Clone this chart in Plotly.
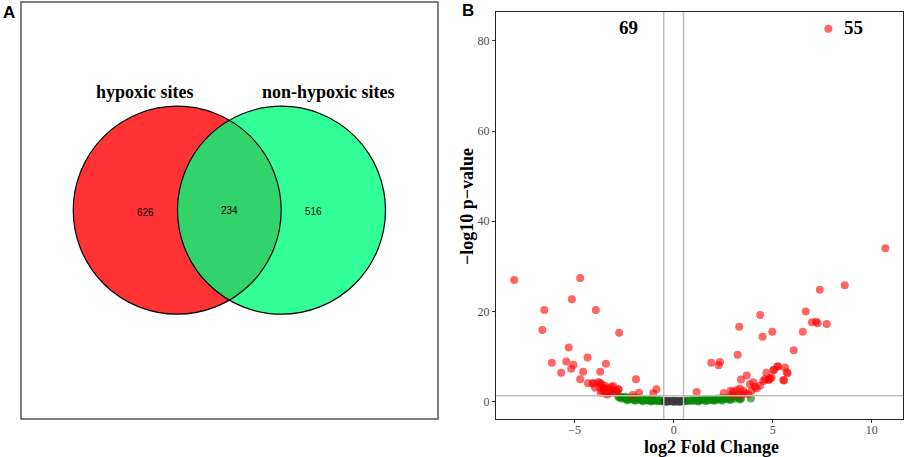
import numpy as np
import plotly.graph_objects as go

# ---------------- Data ----------------
venn_sets = ["hypoxic sites", "non-hypoxic sites"]
venn_counts = [626, 234, 516]  # only-left, overlap, only-right

left_red_x = [-8.05, -4.72, -5.14, -6.53, -3.93, -6.63, -2.75, -5.30, -4.35, -6.15,
              -5.42, -5.06, -3.42, -5.17, -5.68, -4.57, -3.71, -4.72, -1.90, -4.33,
              -4.09, -3.72, -0.87, -1.75, -1.03, -2.07, -4.06, -3.81, -3.64, -3.47,
              -3.55, -3.30, -3.13, -3.05, -3.38, -3.72, -2.80, -3.97, -3.22, -2.78,
              -3.05, -3.60, -3.45, -3.25, -2.95, -3.50, -3.15, -3.35, -2.90, -3.68]
left_red_y = [27.0, 27.4, 22.7, 20.3, 20.3, 15.9, 15.3, 12.0, 9.8, 8.65,
              8.9, 8.2, 8.4, 7.3, 6.4, 6.65, 6.65, 4.96, 5.0, 4.1,
              4.1, 4.2, 2.75, 2.0, 1.85, 1.5, 4.07, 4.3, 3.85, 3.55,
              2.8, 2.95, 3.3, 2.4, 2.2, 3.1, 2.75, 3.1, 1.85, 2.7,
              3.5, 2.4, 1.8, 2.1, 1.9, 3.0, 2.6, 1.6, 2.3, 2.0]

right_red_x = [7.81, 10.69, 8.64, 7.38, 6.67, 4.37, 6.98, 7.19, 7.27, 7.73,
               3.31, 6.52, 4.98, 4.49, 6.06, 3.23, 1.90, 2.34, 2.27, 5.23,
               5.62, 5.76, 5.07, 4.68, 5.57, 3.69, 3.40, 1.16, 2.53, 5.03,
               5.28, 5.71, 5.54, 3.01, 3.18, 3.35, 3.52, 3.85, 4.02, 4.11,
               4.36, 4.53, 4.78, 4.86, 2.93, 3.26, 3.60, 3.94, 4.19, 3.77,
               3.43, 4.61, 2.88, 4.95, 4.82]
right_red_y = [82.7, 34.0, 25.8, 24.8, 20.0, 19.2, 17.6, 17.7, 17.4, 17.2,
               16.6, 15.5, 15.5, 14.4, 11.4, 10.4, 8.65, 8.8, 8.1, 7.8,
               7.6, 6.3, 7.0, 6.4, 4.7, 5.8, 4.9, 2.15, 1.9, 7.0,
               7.8, 6.5, 4.8, 2.2, 2.6, 2.95, 2.4, 3.85, 4.3, 3.3,
               3.55, 4.6, 4.8, 5.2, 1.5, 1.65, 1.85, 2.4, 2.95, 1.65,
               1.5, 5.0, 2.4, 5.3, 4.9]

green_x = [-2.80, -2.75, -2.70, -2.65, -2.60, -2.50, -2.45, -2.40, -2.30, -2.25,
           -2.20, -2.10, -2.05, -2.00, -1.90, -1.85, -1.80, -1.70, -1.65, -1.60,
           -1.50, -1.45, -1.40, -1.30, -1.25, -1.20, -1.10, -1.05, -1.00, -0.90,
           -0.85, -0.80, -0.70, -0.65, -0.60, -0.55,
           0.55, 0.60, 0.70, 0.80, 0.90, 1.00, 1.10, 1.20, 1.30, 1.40,
           1.50, 1.60, 1.70, 1.80, 1.90, 2.00, 2.10, 2.20, 2.30, 2.40,
           2.50, 2.60, 2.70, 2.80, 2.90, 3.00, 3.10, 3.20, 3.30, 3.35,
           3.40, 3.90, -2.35, -1.95, -1.55, -1.15, 1.25, 1.65, 2.05, 2.45, 2.85]
green_y = [1.20, 0.90, 1.10, 0.70, 1.00, 0.80, 1.10, 0.60, 0.90, 0.50,
           0.80, 0.60, 0.90, 0.40, 0.70, 0.50, 0.80, 0.40, 0.60, 0.30,
           0.60, 0.35, 0.50, 0.25, 0.50, 0.30, 0.45, 0.20, 0.40, 0.20,
           0.35, 0.15, 0.30, 0.10, 0.25, 0.10,
           0.10, 0.25, 0.15, 0.30, 0.15, 0.35, 0.20, 0.40, 0.25, 0.45,
           0.30, 0.50, 0.30, 0.55, 0.35, 0.60, 0.40, 0.70, 0.45, 0.75,
           0.50, 0.80, 0.55, 0.90, 0.60, 1.00, 0.70, 1.10, 0.80, 0.50,
           0.70, 0.70, 0.30, 0.20, 0.10, 0.05, 0.05, 0.15, 0.20, 0.25, 0.35]

gray_x = [-0.45, -0.35, -0.25, -0.15, -0.05, 0.05, 0.15, 0.25, 0.35, 0.45, -0.40, 0.00, 0.30]
gray_y = [0.10, 0.20, 0.05, 0.15, 0.10, 0.20, 0.05, 0.15, 0.10, 0.20, 0.00, 0.00, 0.00]

n_down, n_up = 69, 55
fc_cut, p_cut = 0.5, 1.3

x_ticks = [-5, 0, 5, 10]
y_ticks = [0, 20, 40, 60, 80]
x_title = "log2 Fold Change"
y_title = "\u2212log10 p\u2212value"

# ---------------- Figure ----------------
W, H = 906, 457
VW = 470  # width of the Venn sub-panel (pixels)
fig = go.Figure()

serif = "Liberation Serif"
sans = "Liberation Sans"

def px2x(p):
    return p / W

def py2y(p):
    return 1 - p / H

def add_pts(x, y, color, op):
    fig.add_trace(go.Scatter(x=x, y=y, mode="markers", xaxis="x", yaxis="y",
                             marker=dict(size=8, color=color, opacity=op, line=dict(width=0)),
                             showlegend=False, hoverinfo="skip"))

add_pts(green_x, green_y, "#008B00", 0.65)
add_pts(gray_x, gray_y, "#3a3a3a", 0.8)
add_pts(left_red_x, left_red_y, "#FF0000", 0.6)
add_pts(right_red_x, right_red_y, "#FF0000", 0.6)

shapes = []
for xv in (-fc_cut, fc_cut):
    shapes.append(dict(type="line", xref="x", yref="y domain", x0=xv, x1=xv, y0=0, y1=1,
                       line=dict(color="#BEBEBE", width=1.5), layer="above"))
shapes.append(dict(type="line", xref="x domain", yref="y", x0=0, x1=1, y0=p_cut, y1=p_cut,
                   line=dict(color="#BEBEBE", width=1.5), layer="above"))

# Venn geometry (pixel space via x2/y2)
cl, cr, cy, r = 177.2, 281.5, 210.2, 104.0
shapes.append(dict(type="circle", xref="x2", yref="y2", x0=cl - r, x1=cl + r, y0=cy - r, y1=cy + r,
                   fillcolor="#FF3333", line=dict(width=0), layer="below"))
shapes.append(dict(type="circle", xref="x2", yref="y2", x0=cr - r, x1=cr + r, y0=cy - r, y1=cy + r,
                   fillcolor="#33FF99", line=dict(width=0), layer="below"))
d = cr - cl
h = np.sqrt(r * r - (d / 2) ** 2)
ang = np.arcsin(h / r)
t1 = np.linspace(-ang, ang, 60)
arc_a = [(cl + r * np.cos(t), cy + r * np.sin(t)) for t in t1]
arc_b = [(cr - r * np.cos(t), cy - r * np.sin(t)) for t in t1]
pts = arc_a + arc_b
path = "M " + " L ".join(f"{a:.2f},{b:.2f}" for a, b in pts) + " Z"
shapes.append(dict(type="path", xref="x2", yref="y2", path=path,
                   fillcolor="#33D36B", line=dict(width=0), layer="below"))
for c in (cl, cr):
    shapes.append(dict(type="circle", xref="x2", yref="y2", x0=c - r, x1=c + r, y0=cy - r, y1=cy + r,
                       fillcolor="rgba(0,0,0,0)", line=dict(color="black", width=1.2), layer="below"))
shapes.append(dict(type="rect", xref="x2", yref="y2", x0=21, x1=438, y0=2, y1=419,
                   line=dict(color="#555555", width=1.5), fillcolor="rgba(0,0,0,0)", layer="below"))

ann = []
ann.append(dict(xref="x2", yref="y2", x=145, y=92, text=venn_sets[0], showarrow=False,
                font=dict(family=serif, size=18, color="black", weight="bold")))
ann.append(dict(xref="x2", yref="y2", x=328, y=92, text=venn_sets[1], showarrow=False,
                font=dict(family=serif, size=18, color="black", weight="bold")))
for xx, yy, v in [(145, 212, venn_counts[0]), (229, 210, venn_counts[1]), (313, 211, venn_counts[2])]:
    ann.append(dict(xref="x2", yref="y2", x=xx, y=yy, text=str(v), showarrow=False,
                    font=dict(family=sans, size=10, color="black")))
ann.append(dict(xref="paper", yref="paper", x=px2x(8.5), y=py2y(12), text="A", showarrow=False,
                xanchor="center", yanchor="middle", font=dict(family=sans, size=17, color="black", weight="bold")))
ann.append(dict(xref="paper", yref="paper", x=px2x(468), y=py2y(11), text="B", showarrow=False,
                xanchor="center", yanchor="middle", font=dict(family=sans, size=17, color="black", weight="bold")))
ann.append(dict(xref="x", yref="y", x=-2.3, y=83, text=str(n_down), showarrow=False,
                font=dict(family=serif, size=19, color="black", weight="bold")))
ann.append(dict(xref="x", yref="y", x=9.1, y=83, text=str(n_up), showarrow=False,
                font=dict(family=serif, size=19, color="black", weight="bold")))
# axis titles
ann.append(dict(xref="paper", yref="paper", x=px2x(711), y=py2y(447), text=x_title, showarrow=False,
                xanchor="center", yanchor="middle",
                font=dict(family=serif, size=18, color="black", weight="bold")))
ann.append(dict(xref="paper", yref="paper", x=px2x(467), y=py2y(206), text=y_title, showarrow=False,
                xanchor="center", yanchor="middle", textangle=-90,
                font=dict(family=serif, size=18, color="black", weight="bold")))

fig.update_layout(
    width=W, height=H, margin=dict(l=0, r=0, t=0, b=0),
    paper_bgcolor="white", plot_bgcolor="rgba(0,0,0,0)", showlegend=False,
    shapes=shapes, annotations=ann,
    xaxis=dict(domain=[px2x(496), px2x(903)], range=[-8.97, 11.58], tickvals=x_ticks,
               ticktext=[("\u2212" + str(abs(t))) if t < 0 else str(t) for t in x_ticks],
               showgrid=False, zeroline=False, showline=True, mirror=True, linecolor="#222222", linewidth=1.2,
               ticks="outside", ticklen=3, tickcolor="#333333", ticklabelstandoff=-4,
               tickfont=dict(family=serif, size=12, color="#4D4D4D")),
    yaxis=dict(domain=[py2y(419), py2y(12)], range=[-3.84, 86.4], tickvals=y_ticks,
               showgrid=False, zeroline=False, showline=True, mirror=True, linecolor="#222222", linewidth=1.2,
               ticks="outside", ticklen=3, tickcolor="#333333",
               tickfont=dict(family=serif, size=12, color="#4D4D4D")),
    xaxis2=dict(domain=[0, VW / W], range=[0, VW], visible=False, fixedrange=True, anchor="y2"),
    yaxis2=dict(domain=[0, 1], range=[H, 0], visible=False, fixedrange=True, anchor="x2"),
)
fig.add_trace(go.Scatter(x=[0], y=[0], xaxis="x2", yaxis="y2", mode="markers",
                         marker=dict(opacity=0), showlegend=False, hoverinfo="skip"))

fig.write_html("out.html", config={"displayModeBar": False},
               post_script="document.body.style.margin='0px';document.body.style.padding='0px';")
